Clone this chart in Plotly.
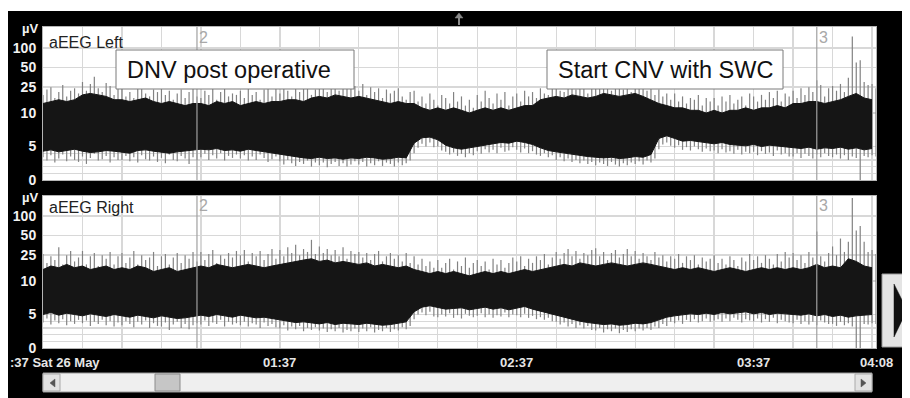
import numpy as np
import plotly.graph_objects as go

# ---------------- data ----------------
# dense band edges: minutes after 00:37, every 2 minutes (0 .. 210)
minutes = list(range(0, 212, 2))
# spike (whisker) extremes: every minute (0 .. 211)
spike_minutes = list(range(0, 212))

# aEEG Left (µV)
left_upper = [14, 15, 16, 15, 16, 19, 20, 19, 18, 16,
              16, 15, 16, 17, 15, 14, 15, 14, 13, 14,
              14, 13, 15, 14, 15, 13, 14, 15, 14, 15,
              15, 16, 16, 15, 17, 18, 17, 19, 18, 17,
              18, 17, 16, 15, 14, 15, 14,
              14, 12, 11, 12, 11, 12, 11, 10, 11, 12, 11, 12, 11, 12, 13, 13,
              16, 17, 18, 17, 19, 18, 17, 18, 20, 19, 18, 19, 20, 18, 16,
              14, 13, 12, 12, 11, 11, 10, 11, 10, 11, 11, 12, 11, 12, 12, 13, 12,
              14, 14, 15, 15, 14, 15, 16, 18, 20, 17, 16]
left_lower = [4.3, 4.5, 4.2, 4.4, 4.6, 4.3, 4.1, 4.2, 4.4, 4.3,
              4.2, 4.0, 4.4, 4.5, 4.3, 4.1, 4.0, 4.2, 4.3, 4.5,
              4.6, 4.5, 4.7, 4.4, 4.5, 4.3, 4.6, 4.4, 4.2, 4.0,
              3.8, 3.6, 3.5, 3.3, 3.2, 3.4, 3.2, 3.3, 3.1, 3.3,
              3.2, 3.4, 3.3, 3.1, 3.2, 3.4, 3.3,
              5.5, 6.3, 6.4, 6.0, 5.2, 4.8, 4.6, 4.8, 5.0, 5.2, 5.4, 5.6, 5.5, 5.8, 5.6, 5.3,
              4.8, 4.4, 4.2, 4.0, 3.8, 3.6, 3.5, 3.4, 3.3, 3.4, 3.2, 3.3, 3.5, 3.4, 3.8,
              6.2, 6.6, 6.2, 5.8, 5.9, 5.7, 5.5, 5.4, 5.6, 5.3, 5.2, 5.1, 5.3, 5.0, 5.2, 5.1, 4.9,
              4.8, 4.7, 4.9, 4.6, 4.8, 4.7, 4.9, 4.6, 4.8, 4.5, 4.7]
left_spike_max = [19, 23, 25, 17, 21, 27, 18, 22, 24, 20,
                  30, 22, 28, 36, 24, 21, 29, 26, 19, 25,
                  24, 18, 21, 17, 26, 28, 20, 18, 23, 21,
                  25, 19, 22, 16, 20, 23, 17, 21, 24, 18,
                  17, 22, 19, 24, 16, 21, 26, 18, 20, 19,
                  22, 17, 25, 19, 21, 16, 23, 25, 18, 24,
                  20, 26, 22, 18, 25, 21, 24, 28, 19, 23,
                  30, 24, 21, 27, 32, 22, 29, 25, 46, 26,
                  22, 28, 19, 25, 21, 24, 17, 23, 20, 22,
                  24, 18, 16, 21, 22, 15, 18, 14, 20, 16,
                  13, 19, 17, 14, 21, 15, 18, 13, 16, 12,
                  19, 15, 22, 17, 14, 20, 16, 21, 13, 18,
                  20, 15, 22, 18, 21, 17, 24, 20, 19, 26,
                  28, 22, 21, 25, 30, 23, 26, 24, 20, 27,
                  28, 24, 30, 26, 22, 29, 25, 23, 28, 21,
                  30, 25, 26, 22, 24, 19, 23, 18, 20, 16,
                  20, 15, 18, 14, 17, 16, 19, 13, 17, 15,
                  17, 13, 18, 15, 19, 14, 16, 18, 13, 20,
                  18, 15, 19, 16, 21, 17, 22, 15, 20, 18,
                  22, 17, 24, 19, 25, 21, 32, 27, 18, 24,
                  26, 22, 28, 21, 35, 150, 60, 65, 30, 27,
                  28, 24]
left_spike_min = [3.4, 2.9, 3.7, 2.6, 3.2, 3.8, 2.8, 3.5, 3.0, 2.7,
                  3.5, 2.4, 3.3, 3.9, 2.9, 3.1, 3.6, 2.6, 3.4, 3.0,
                  3.0, 3.6, 2.8, 3.4, 2.6, 3.7, 3.1, 2.9, 3.5, 2.7,
                  3.3, 2.5, 3.8, 3.0, 2.8, 3.6, 3.2, 2.4, 3.4, 3.0,
                  3.4, 3.9, 3.0, 3.7, 3.2, 4.0, 2.9, 3.6, 3.3, 3.8,
                  3.2, 3.7, 2.9, 3.5, 3.0, 3.8, 3.3, 2.7, 3.1, 3.5,
                  2.8, 2.3, 3.0, 2.5, 2.1, 2.7, 2.4, 2.9, 2.0, 2.6,
                  2.2, 2.6, 1.9, 2.4, 2.7, 2.1, 2.5, 2.0, 2.3, 2.8,
                  2.3, 2.7, 2.0, 2.5, 2.2, 2.8, 2.1, 2.6, 2.4, 2.0,
                  2.6, 2.2, 2.5, 2.9, 4.0, 4.8, 5.4, 5.0, 5.6, 4.9,
                  5.0, 4.4, 4.2, 3.8, 4.1, 3.6, 3.9, 3.4, 4.0, 3.7,
                  4.3, 3.9, 4.6, 4.1, 4.5, 4.0, 4.8, 4.2, 4.4, 4.9,
                  4.5, 4.1, 4.7, 4.0, 4.3, 3.8, 3.6, 4.0, 3.4, 3.7,
                  3.0, 3.4, 2.8, 3.2, 2.7, 3.0, 2.5, 2.9, 2.4, 2.7,
                  2.2, 2.6, 2.4, 2.1, 2.7, 2.3, 2.0, 2.5, 2.2, 2.6,
                  2.4, 2.8, 2.3, 2.9, 2.6, 3.2, 4.6, 5.3, 5.6, 5.1,
                  4.8, 5.2, 4.5, 4.9, 4.4, 5.0, 4.6, 4.2, 4.7, 4.3,
                  4.4, 4.0, 4.6, 4.1, 4.3, 3.9, 4.5, 3.8, 4.2, 4.0,
                  4.2, 3.7, 4.3, 3.9, 4.1, 3.6, 4.4, 3.8, 4.0, 3.5,
                  3.5, 4.0, 3.3, 3.9, 3.6, 3.2, 3.8, 3.4, 4.0, 3.6,
                  3.4, 3.8, 3.2, 3.7, 3.0, 3.5, 3.3, 0.0, 3.6, 3.4,
                  3.7, 3.5]

# aEEG Right (µV)
right_upper = [15, 17, 16, 18, 16, 17, 15, 16, 17, 15,
               16, 15, 17, 16, 14, 15, 16, 14, 15, 16,
               17, 16, 18, 17, 16, 17, 18, 17, 16, 17,
               18, 19, 20, 21, 22, 20, 21, 19, 20, 19,
               18, 19, 17, 18, 17, 16, 17,
               15, 14, 13, 14, 13, 14, 13, 12, 13, 14, 13, 14, 13, 14, 15, 14,
               15, 16, 17, 18, 17, 19, 18, 17, 18, 19, 18, 17, 18, 19, 18,
               17, 16, 15, 16, 15, 16, 15, 14, 15, 16, 15, 14, 15, 16, 15, 16, 15,
               16, 15, 16, 18, 16, 17, 16, 22, 20, 17, 16]
right_lower = [5.0, 5.3, 4.9, 5.2, 5.0, 4.8, 5.1, 4.9, 4.7, 5.0,
               4.8, 4.6, 4.9, 4.7, 4.5, 4.8, 4.6, 4.4, 4.5, 4.7,
               4.9, 4.7, 5.0, 4.8, 4.6, 4.9, 4.7, 4.5, 4.6, 4.4,
               4.2, 4.0, 3.8, 3.9, 3.7, 3.6, 3.8, 3.5, 3.7, 3.6,
               3.5, 3.7, 3.6, 3.4, 3.5, 3.7, 3.9,
               5.4, 6.1, 6.3, 6.0, 5.8, 5.9, 6.0, 5.7, 5.9, 6.1, 5.8, 6.0, 5.7, 5.9, 6.2, 5.8,
               5.5, 5.2, 4.8, 4.5, 4.2, 4.0, 3.8, 3.6, 3.5, 3.6, 3.4, 3.5, 3.7, 3.6, 3.8,
               4.2, 4.6, 4.8, 4.9, 5.1, 5.0, 5.2, 5.0, 5.3, 5.1, 5.2, 5.4, 5.1, 5.3, 5.0, 5.2, 5.1,
               5.0, 4.9, 5.1, 4.8, 5.0, 4.7, 4.9, 4.6, 4.8, 4.9, 5.0]
right_spike_max = [26, 19, 24, 21, 33, 18, 25, 29, 20, 23,
                   29, 18, 24, 27, 17, 25, 22, 28, 18, 24,
                   27, 19, 23, 29, 18, 25, 21, 23, 28, 17,
                   24, 26, 18, 23, 27, 19, 25, 22, 28, 20,
                   28, 21, 26, 30, 19, 25, 22, 27, 23, 29,
                   25, 30, 20, 27, 24, 29, 21, 26, 31, 22,
                   30, 24, 33, 27, 36, 25, 31, 28, 43, 26,
                   34, 27, 31, 25, 30, 24, 33, 22, 29, 26,
                   28, 23, 27, 21, 26, 29, 20, 24, 27, 22,
                   25, 20, 27, 19, 24, 18, 22, 17, 20, 16,
                   21, 16, 19, 22, 15, 20, 17, 23, 16, 19,
                   21, 17, 20, 15, 22, 18, 21, 16, 19, 23,
                   20, 24, 17, 22, 19, 24, 21, 26, 18, 23,
                   28, 22, 27, 31, 24, 29, 22, 27, 25, 30,
                   32, 24, 28, 21, 27, 30, 23, 26, 31, 24,
                   29, 22, 27, 24, 21, 28, 23, 25, 20, 24,
                   22, 26, 19, 24, 21, 25, 18, 23, 20, 22,
                   25, 19, 22, 18, 24, 21, 17, 23, 20, 26,
                   21, 24, 19, 25, 22, 18, 26, 20, 28, 23,
                   27, 21, 25, 19, 28, 23, 58, 24, 20, 27,
                   34, 25, 45, 28, 40, 190, 60, 70, 40, 28,
                   30, 26]
right_spike_min = [3.8, 4.4, 3.5, 4.1, 3.7, 4.3, 3.4, 4.0, 3.6, 4.2,
                   3.7, 4.1, 3.3, 3.9, 3.6, 4.2, 3.4, 4.0, 3.2, 3.8,
                   3.4, 4.0, 3.6, 3.1, 3.9, 3.5, 4.1, 3.0, 3.7, 3.3,
                   3.2, 3.8, 2.7, 3.5, 3.9, 3.0, 3.6, 2.8, 3.4, 3.7,
                   3.5, 4.1, 3.3, 3.8, 3.6, 4.2, 3.2, 3.9, 3.5, 3.7,
                   3.4, 3.9, 3.2, 3.7, 3.5, 3.0, 3.8, 3.3, 3.6, 3.1,
                   2.9, 3.4, 2.6, 3.2, 2.8, 3.3, 2.5, 3.0, 2.7, 3.1,
                   2.6, 2.9, 2.4, 2.8, 2.5, 3.0, 2.3, 2.7, 2.5, 2.9,
                   2.4, 2.9, 2.5, 3.1, 2.3, 2.7, 2.5, 3.0, 2.4, 2.8,
                   2.6, 3.1, 2.8, 3.3, 4.3, 5.0, 5.3, 4.9, 5.4, 4.7,
                   4.6, 5.0, 4.7, 5.2, 4.5, 4.9, 4.4, 5.1, 4.8, 4.6,
                   4.8, 5.2, 4.6, 5.0, 4.5, 4.9, 4.7, 5.3, 4.6, 5.0,
                   4.9, 4.6, 5.1, 4.5, 4.8, 4.3, 4.6, 4.2, 4.5, 4.0,
                   3.9, 3.5, 3.8, 3.2, 3.6, 3.0, 3.4, 2.9, 3.3, 2.7,
                   2.6, 3.0, 2.3, 2.8, 2.5, 2.9, 2.2, 2.7, 2.4, 2.8,
                   2.5, 2.9, 2.6, 3.0, 2.7, 3.2, 3.0, 3.6, 3.3, 3.9,
                   3.7, 4.1, 3.6, 4.2, 3.9, 4.3, 3.8, 4.0, 4.4, 3.9,
                   4.1, 4.3, 3.9, 4.4, 4.0, 4.5, 4.2, 3.8, 4.3, 4.1,
                   4.0, 4.4, 3.8, 4.3, 3.9, 4.5, 3.7, 4.2, 4.0, 3.8,
                   3.7, 4.2, 3.6, 4.0, 3.5, 3.9, 3.4, 4.1, 3.8, 3.6,
                   3.6, 3.3, 3.9, 3.4, 3.7, 3.2, 0.0, 0.0, 3.6, 3.5,
                   3.7, 3.6]

for arr in (left_upper, left_lower, right_upper, right_lower):
    assert len(arr) == len(minutes), len(arr)
for arr in (left_spike_max, left_spike_min, right_spike_max, right_spike_min):
    assert len(arr) == len(spike_minutes), len(arr)

# axis labels and annotations
y_tick_values = [0, 5, 10, 25, 50, 100]
y_grid_values = [1, 2, 3, 4, 5, 10, 25, 50, 100]
time_label_minutes = [60, 120, 180, 211]
time_labels = ["01:37", "02:37", "03:37", "04:08"]
start_label = ":37 Sat 26 May"
event_minutes = [39.0, 196.0]
event_labels = ["2", "3"]
x_max = 211
panel_titles = ["aEEG Left", "aEEG Right"]
notes = ["DNV post operative", "Start CNV with SWC"]

# ---------------- helpers ----------------
def aeeg(v):
    """semi-log aEEG scale: linear 0-10 µV, logarithmic 10-100+ µV"""
    v = np.asarray(v, dtype=float)
    return np.where(v <= 10, v, 10 + 9.7 * np.log10(np.maximum(v, 1e-9) / 10.0))

# the page body has an 8 px margin; the figure is 8 px smaller and every
# screen coordinate used below is converted with px()/py()
OFF = 8
W, H = 910 - OFF, 398 - OFF
L, T = 43 - OFF, 27 - OFF
R = 910 - 876
B = 398 - 348
PW, PH = W - L - R, H - T - B


def px(x):
    return (x - OFF - L) / PW


def py(y):
    return (H - B - (y - OFF)) / PH


FONT = "Liberation Sans, Arial, sans-serif"

fig = go.Figure()

panels = [
    ("x", "y", left_lower, left_upper, left_spike_min, left_spike_max),
    ("x2", "y2", right_lower, right_upper, right_spike_min, right_spike_max),
]
for xa, ya, lo, up, mn, mx in panels:
    wx, wy = [], []
    for t, a, b in zip(spike_minutes, aeeg(mn), aeeg(mx)):
        wx += [t, t, None]
        wy += [a, b, None]
    fig.add_trace(go.Scatter(x=wx, y=wy, mode="lines", xaxis=xa, yaxis=ya,
                             line=dict(color="#828282", width=1.2),
                             hoverinfo="skip", showlegend=False))
    fig.add_trace(go.Scatter(x=minutes, y=aeeg(lo), mode="lines", xaxis=xa, yaxis=ya,
                             line=dict(color="#151515", width=1),
                             hoverinfo="skip", showlegend=False))
    fig.add_trace(go.Scatter(x=minutes, y=aeeg(up), mode="lines", xaxis=xa, yaxis=ya,
                             line=dict(color="#151515", width=1),
                             fill="tonexty", fillcolor="#151515",
                             hoverinfo="skip", showlegend=False))

grid_col = "#d8d8d8"
xax = dict(range=[0, x_max], showticklabels=False, showgrid=True, tick0=0, dtick=10,
           gridcolor=grid_col, gridwidth=1.3, zeroline=False, showline=True,
           linecolor="#b5b5b5", linewidth=1, mirror=True, ticks="", fixedrange=True,
           automargin=False)

tickvals = [0.0] + list(aeeg(y_grid_values))
ticktext = ["<b>0</b>"] + [("<b>%d</b>" % v) if v in y_tick_values else "" for v in y_grid_values]
yax = dict(tickvals=tickvals, ticktext=ticktext, showgrid=True, gridcolor=grid_col,
           gridwidth=1.3, zeroline=False, showline=True, linecolor="#b5b5b5",
           linewidth=1, mirror=True, ticks="", ticklabelstandoff=3, automargin=False,
           tickfont=dict(family=FONT, size=14, color="#f2f2f2"), fixedrange=True)

top_dom = [py(180), 1.0]
bot_dom = [0.0, py(196)]

fig.update_layout(
    width=W, height=H,
    margin=dict(l=L, r=R, t=T, b=B, pad=0, autoexpand=False),
    paper_bgcolor="#000000", plot_bgcolor="#ffffff",
    xaxis=dict(xax, domain=[0, 1], anchor="y"),
    xaxis2=dict(xax, domain=[0, 1], anchor="y2", matches="x"),
    yaxis=dict(yax, domain=top_dom, range=[0, 153 / 6.7], anchor="x"),
    yaxis2=dict(yax, domain=bot_dom, range=[0, 152 / 6.7], anchor="x2"),
    showlegend=False,
)

ann = []
shapes = []


def prect(x0, y0, x1, y1, fill, line="#888888", lw=1):
    return dict(type="rect", xref="paper", yref="paper", x0=px(x0), x1=px(x1),
                y0=py(y1), y1=py(y0), fillcolor=fill, line=dict(color=line, width=lw),
                layer="above")


def ppath(points, fill):
    d = "M " + " L ".join("%f,%f" % (px(a), py(b)) for a, b in points) + " Z"
    return dict(type="path", xref="paper", yref="paper", path=d, fillcolor=fill,
                line=dict(color=fill, width=0.5), layer="above")


# panel titles, µV labels, event markers
for ya, title, ytitle, yuv, yev in [("y", panel_titles[0], 42, 28, 37),
                                    ("y2", panel_titles[1], 208, 197, 206)]:
    ann.append(dict(text=title, xref="paper", yref="paper", x=px(47), y=py(ytitle),
                    xanchor="left", yanchor="middle", showarrow=False,
                    font=dict(family=FONT, size=16, color="#222222")))
    ann.append(dict(text="<b>µV</b>", xref="paper", yref="paper", x=px(40), y=py(yuv),
                    xanchor="right", yanchor="middle", showarrow=False,
                    font=dict(family=FONT, size=13, color="#f2f2f2")))
    xref = "x" if ya == "y" else "x2"
    for tm, lab in zip(event_minutes, event_labels):
        ann.append(dict(text=lab, xref=xref, yref="paper", x=tm, y=py(yev),
                        xanchor="left", yanchor="middle", showarrow=False,
                        font=dict(family=FONT, size=16, color="#a8a8a8")))
        shapes.append(dict(type="line", xref=xref, yref=ya + " domain", x0=tm, x1=tm,
                           y0=0, y1=1, line=dict(color="#a0a0a0", width=1.2), layer="above"))

# note boxes (box as shape, text as annotation on top)
for text, x0, x1 in [(notes[0], 116, 354), (notes[1], 547, 783)]:
    shapes.append(prect(x0, 50, x1, 89, "#ffffff", "#7a7a7a"))
    ann.append(dict(text=text, xref="paper", yref="paper", x=px(x0 + 9), y=py(70),
                    xanchor="left", yanchor="middle", showarrow=False,
                    font=dict(family=FONT, size=23.5, color="#111111")))

# time labels
for tm, lab in zip(time_label_minutes, time_labels):
    ann.append(dict(text="<b>%s</b>" % lab, xref="x2", yref="paper", x=tm, y=py(362),
                    xanchor="center", yanchor="middle", showarrow=False,
                    font=dict(family=FONT, size=13, color="#e6e6e6")))
ann.append(dict(text="<b>%s</b>" % start_label, xref="paper", yref="paper", x=px(8), y=py(362),
                xanchor="left", yanchor="middle", showarrow=False,
                font=dict(family=FONT, size=13, color="#e6e6e6")))

# white page margin on top
shapes.append(prect(0, 0, 920, 11, "#ffffff", "#ffffff", 0))

# small up arrow at top
shapes.append(dict(type="line", xref="paper", yref="paper", x0=px(459), x1=px(459),
                   y0=py(25), y1=py(17), line=dict(color="#8a8a8a", width=2), layer="above"))
shapes.append(ppath([(455, 18), (463, 18), (459, 13)], "#8a8a8a"))

# scrollbar
shapes.append(prect(43, 373, 872, 392, "#efefef", "#9a9a9a"))
shapes.append(prect(43, 374, 60, 391, "#e2e2e2", "#aaaaaa"))
shapes.append(prect(855, 374, 872, 391, "#e2e2e2", "#aaaaaa"))
shapes.append(prect(155, 374, 180, 391, "#c6c6c6", "#8c8c8c"))
shapes.append(ppath([(55, 379), (55, 387), (50, 383)], "#555555"))
shapes.append(ppath([(861, 379), (861, 387), (866, 383)], "#555555"))

# big right button
shapes.append(prect(882, 274, 912, 347, "#e4e4e4", "#9a9a9a"))
shapes.append(ppath([(894, 284), (894, 337), (907, 310)], "#111111"))

fig.update_layout(annotations=ann, shapes=shapes)

fig.write_html("out.html", config={"displayModeBar": False, "staticPlot": True})
